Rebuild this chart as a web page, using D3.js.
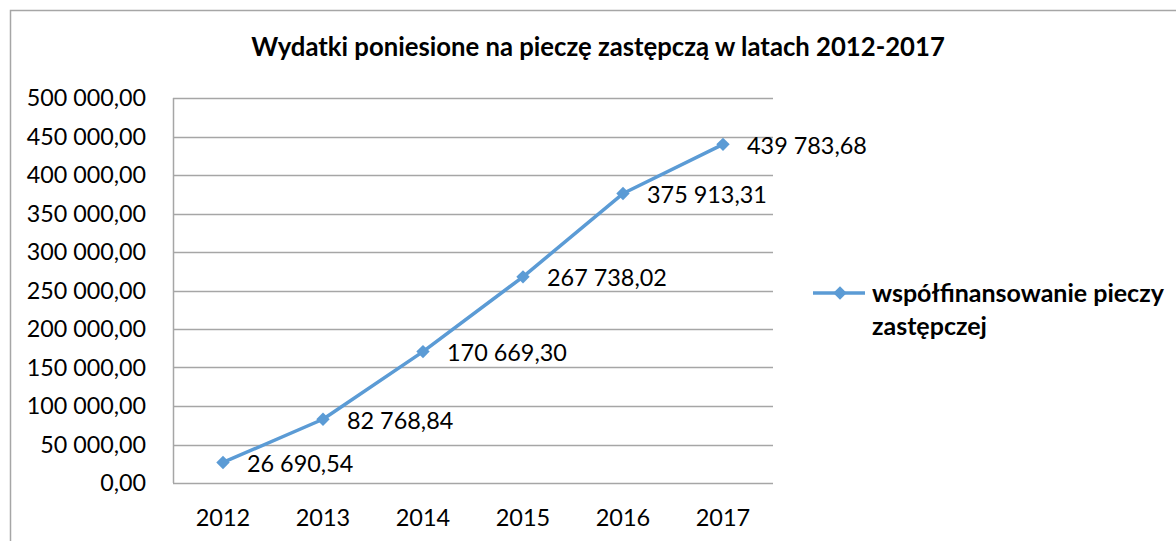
<!DOCTYPE html>
<html>
<head>
<meta charset="utf-8">
<script src="https://cdn.jsdelivr.net/npm/d3@7"></script>
<style>
  body { margin: 0; background: #fff; }
  text { font-family: Lato, "Open Sans", sans-serif; fill: #000; }
</style>
</head>
<body>
<div id="chart"></div>
<script>
var years = ['2012', '2013', '2014', '2015', '2016', '2017']
var values = [26690.54, 82768.84, 170669.30, 267738.02, 375913.31, 439783.68]
var yTicks = [0, 50000, 100000, 150000, 200000, 250000, 300000, 350000, 400000, 450000, 500000]
var title = 'Wydatki poniesione na pieczę zastępczą w latach 2012-2017'
var seriesName = ['współfinansowanie pieczy', 'zastępczej']

var width = 1176, height = 541;
var margin = {left: 173, top: 98, right: 403, bottom: 58};
var lineColor = '#5b9bd5';

var svg = d3.select('#chart').append('svg')
    .attr('width', width)
    .attr('height', height);

// outer chart border (cut off on the right and bottom)
svg.append('rect')
    .attr('x', 10.5).attr('y', 10.5)
    .attr('width', width + 20).attr('height', height + 20)
    .attr('fill', 'none')
    .attr('stroke', '#a6a6a6')
    .attr('stroke-width', 1.5);

// numbers like "439 783,68"
var fmt = d3.formatLocale({decimal: ',', thousands: '\u00a0', grouping: [3], currency: ['', '']}).format(',.2f');

var x = d3.scaleBand()
    .domain(years)
    .range([margin.left, width - margin.right]);

var y = d3.scaleLinear()
    .domain([0, 500000])
    .range([height - margin.bottom, margin.top]);

// grid lines
svg.append('g').selectAll('line')
    .data(yTicks)
    .enter()
    .append('line')
    .attr('x1', margin.left)
    .attr('x2', width - margin.right)
    .attr('y1', function (d) { return Math.round(y(d)) + 0.5 })
    .attr('y2', function (d) { return Math.round(y(d)) + 0.5 })
    .attr('stroke', '#a6a6a6')
    .attr('stroke-width', 1.5);

// vertical axis line
svg.append('line')
    .attr('x1', margin.left + 0.5).attr('x2', margin.left + 0.5)
    .attr('y1', y(500000)).attr('y2', y(0))
    .attr('stroke', '#a6a6a6')
    .attr('stroke-width', 1.5);

// y labels
svg.append('g').selectAll('text')
    .data(yTicks)
    .enter()
    .append('text')
    .attr('x', 146)
    .attr('y', function (d) { return y(d) })
    .attr('dy', '0.36em')
    .attr('text-anchor', 'end')
    .style('font-size', '23.3px')
    .text(function (d) { return fmt(d) });

// x labels
svg.append('g').selectAll('text')
    .data(years)
    .enter()
    .append('text')
    .attr('x', function (d) { return x(d) + x.bandwidth() / 2 })
    .attr('y', 526)
    .attr('text-anchor', 'middle')
    .style('font-size', '23.5px')
    .text(function (d) { return d });

var line = d3.line()
    .x(function (d, i) { return x(years[i]) + x.bandwidth() / 2 })
    .y(function (d) { return y(d) });

svg.append('path')
    .datum(values)
    .attr('d', line)
    .attr('fill', 'none')
    .attr('stroke', lineColor)
    .attr('stroke-width', 3.5)
    .attr('stroke-linejoin', 'round');

var diamond = d3.symbol().type(d3.symbolSquare).size(90);

svg.append('g').selectAll('path')
    .data(values)
    .enter()
    .append('path')
    .attr('d', diamond)
    .attr('transform', function (d, i) {
        return 'translate(' + (x(years[i]) + x.bandwidth() / 2) + ',' + y(d) + ') rotate(45)'
    })
    .attr('fill', lineColor);

// data labels
svg.append('g').selectAll('text')
    .data(values)
    .enter()
    .append('text')
    .attr('x', function (d, i) { return x(years[i]) + x.bandwidth() / 2 + 24 })
    .attr('y', function (d) { return y(d) })
    .attr('dy', '0.4em')
    .style('font-size', '23.4px')
    .text(function (d) { return fmt(d) });

// title
svg.append('text')
    .attr('x', 598)
    .attr('y', 56)
    .attr('text-anchor', 'middle')
    .style('font-size', '25.7px')
    .style('font-weight', 'bold')
    .text(title);

// legend
var lg = svg.append('g').attr('transform', 'translate(813,293)');
lg.append('line')
    .attr('x1', 0).attr('x2', 52)
    .attr('stroke', lineColor)
    .attr('stroke-width', 3.5);
lg.append('path')
    .attr('d', diamond)
    .attr('transform', 'translate(27,0) rotate(45)')
    .attr('fill', lineColor);
lg.selectAll('text')
    .data(seriesName)
    .enter()
    .append('text')
    .attr('x', 59)
    .attr('y', function (d, i) { return 8.5 + i * 33 })
    .style('font-size', '25px')
    .style('font-weight', 'bold')
    .text(function (d) { return d });
</script>
</body>
</html>
